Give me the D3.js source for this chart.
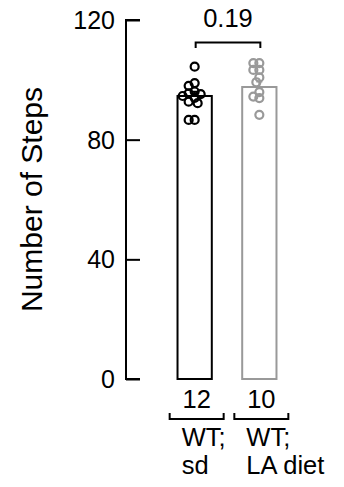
<!DOCTYPE html>
<html lang="en">
<head>
  <meta charset="UTF-8">
  <title>Number of Steps</title>
  <script src="https://d3js.org/d3.v7.min.js"></script>
</head>
<body style="margin: 0; overflow: hidden; background: #fff;">

<script>
  // groups and data
  const groups = ['WT; sd', 'WT; LA diet'];
  const groupLines = [['WT;', 'sd'], ['WT;', 'LA diet']];
  const groupN = [12, 10];
  const groupColors = ['#000000', '#999999'];
  const means = [94.6, 97.6];
  const sdValues = [104.4, 98.9, 98.0, 96.1, 95.5, 95.2, 94.6, 94.0, 92.7, 92.2, 86.6, 86.6];
  const laValues = [105.6, 105.6, 103.3, 103.3, 100.8, 99.2, 95.9, 94.4, 93.9, 88.3];
  const yTicks = [0, 40, 80, 120];
  const pLabel = '0.19';

  const values = [sdValues, laValues];

  const W = 344, H = 487;
  const font = 'Liberation Sans, Arial, sans-serif';

  const svg = d3.select('body').append('svg')
    .attr('width', W)
    .attr('height', H)
    .style('font-family', font);

  const y = d3.scaleLinear().domain([0, 120]).range([379, 20]);
  const x = d3.scaleBand().domain(groups).range([162, 292]).paddingInner(0.47).paddingOuter(0.24);

  //Y axis
  const yAxis = svg.append('g')
    .attr('transform', 'translate(126,0)')
    .call(d3.axisRight(y).tickValues(yTicks).tickSize(14).tickFormat(''));
  yAxis.select('.domain').attr('stroke-width', 2).attr('d', `M14,${y(120)}H0V${y(0)}H14`);
  yAxis.selectAll('.tick line').attr('stroke-width', 2);

  svg.append('g').selectAll('text')
    .data(yTicks)
    .join('text')
    .attr('x', 115)
    .attr('y', d => y(d))
    .attr('dy', '0.36em')
    .attr('text-anchor', 'end')
    .attr('font-size', 25)
    .text(d => d);

  svg.append('text')
    .attr('transform', `translate(42,${(y(0) + y(120)) / 2}) rotate(-90)`)
    .attr('text-anchor', 'middle')
    .attr('font-size', 30)
    .text('Number of Steps');

  //Bars
  svg.append('g').selectAll('rect')
    .data(groups)
    .join('rect')
    .attr('x', d => x(d))
    .attr('y', (d, i) => y(means[i]))
    .attr('width', x.bandwidth())
    .attr('height', (d, i) => y(0) - y(means[i]))
    .attr('fill', 'white')
    .attr('stroke', (d, i) => groupColors[i])
    .attr('stroke-width', 2);

  //Error bars (mean + SEM)
  groups.forEach((g, i) => {
    const sem = d3.deviation(values[i]) / Math.sqrt(values[i].length);
    const cx = x(g) + x.bandwidth() / 2;
    svg.append('path')
      .attr('d', `M${cx},${y(means[i])}V${y(means[i] + sem)}M${cx - 3},${y(means[i] + sem)}H${cx + 3}`)
      .attr('stroke', groupColors[i])
      .attr('stroke-width', 2)
      .attr('fill', 'none');
  });

  //Dots, simple swarm placement
  const r = 4, minDist = 5.6;
  groups.forEach((g, i) => {
    const cx = x(g) + x.bandwidth() / 2;
    const placed = [];
    values[i].slice().sort((a, b) => b - a).forEach(v => {
      const py = y(v);
      for (let k = 0; k < 20; k++) {
        const off = (k % 2 === 0 ? 1 : -1) * Math.ceil(k / 2) * 3;
        const px = cx + off;
        if (placed.every(p => Math.hypot(p[0] - px, p[1] - py) >= minDist)) {
          placed.push([px, py]);
          break;
        }
      }
    });
    svg.append('g').selectAll('circle')
      .data(placed)
      .join('circle')
      .attr('cx', d => d[0])
      .attr('cy', d => d[1])
      .attr('r', r)
      .attr('fill', 'none')
      .attr('stroke', groupColors[i])
      .attr('stroke-width', 2.2);
  });

  //Significance bracket
  const c0 = x(groups[0]) + x.bandwidth() / 2 + 1;
  const c1 = x(groups[1]) + x.bandwidth() / 2 + 1;
  svg.append('path')
    .attr('d', `M${c0},48V42.5H${c1}V48`)
    .attr('stroke', 'black')
    .attr('stroke-width', 2)
    .attr('fill', 'none');
  svg.append('text')
    .attr('x', (c0 + c1) / 2)
    .attr('y', 27)
    .attr('text-anchor', 'middle')
    .attr('font-size', 25.5)
    .text(pLabel);

  //N counts with brackets and group labels
  groups.forEach((g, i) => {
    const cx = x(g) + x.bandwidth() / 2 + 2;
    svg.append('path')
      .attr('d', `M${cx - 27},413V419H${cx + 27}V413`)
      .attr('stroke', 'black')
      .attr('stroke-width', 2)
      .attr('fill', 'none');
    svg.append('text')
      .attr('x', cx)
      .attr('y', 408)
      .attr('text-anchor', 'middle')
      .attr('font-size', 25.5)
      .text(groupN[i]);
    const t = svg.append('text')
      .attr('x', cx - 15)
      .attr('y', 446)
      .attr('font-size', 25.5);
    groupLines[i].forEach((line, j) => {
      t.append('tspan')
        .attr('x', cx - 15)
        .attr('dy', j === 0 ? 0 : 28)
        .text(line);
    });
  });
</script>

</body>
</html>
